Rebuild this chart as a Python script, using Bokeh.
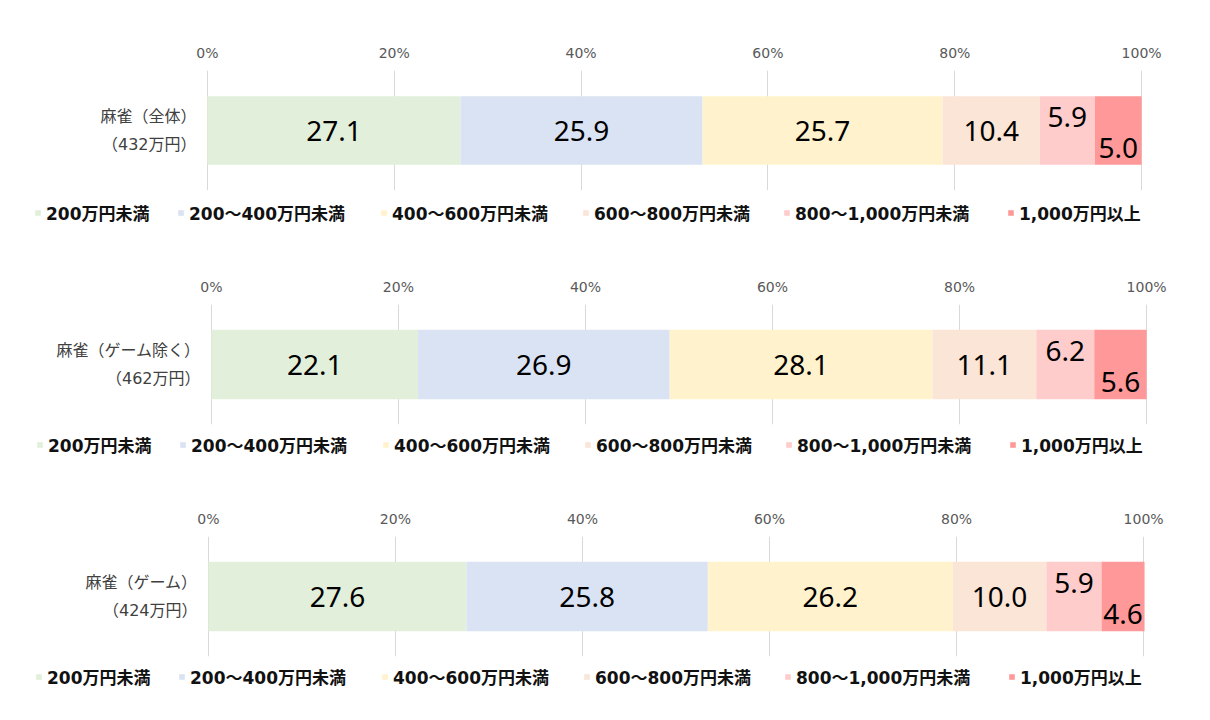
import numpy as np
from bokeh.plotting import figure
from bokeh.models import (Range1d, FactorRange, FixedTicker, PrintfTickFormatter,
                          Legend, LegendItem, ColumnDataSource)
from bokeh.core.properties import value
from bokeh.embed import file_html
from bokeh.resources import INLINE

# ---- data ----
series_names = ["200万円未満", "200～400万円未満", "400～600万円未満",
                "600～800万円未満", "800～1,000万円未満", "1,000万円以上"]
categories = ["麻雀（全体）\n（432万円）", "麻雀（ゲーム除く）\n（462万円）", "麻雀（ゲーム）\n（424万円）"]
vals_all = [27.1, 25.9, 25.7, 10.4, 5.9, 5.0]
vals_exgame = [22.1, 26.9, 28.1, 11.1, 6.2, 5.6]
vals_game = [27.6, 25.8, 26.2, 10.0, 5.9, 4.6]
tick_values = [0, 20, 40, 60, 80, 100]

colors = ["#E2EFDA", "#DAE3F3", "#FFF2CC", "#FBE5D6", "#FFCCCC", "#FF9999"]
label_offsets = [0, 0, 0, 0, -14, 17]
MIXED = "DejaVu Sans, Noto Sans CJK JP"
NUMFONT = "Noto Sans"
W = 1194

# legend item x positions (px) in the legend strip
legend_x = [34, 177, 380, 582, 783, 1007]

# (category, values, border_left, border_right, border_top, border_bottom, bar_height, legend_shift)
panels = [
    (categories[0], vals_all, 205, 51, 70, 10, 0.57, 0),
    (categories[1], vals_exgame, 209, 46, 72, 8, 0.58, 2),
    (categories[2], vals_game, 206, 49, 72, 8, 0.58, 1),
]


def stack(vals):
    vals = np.array(vals)
    rights = np.cumsum(vals)
    return vals, rights - vals, rights


def make_bars(cat, vals, bl, br, bt, bb, bh):
    p = figure(width=W, height=200, x_range=Range1d(-0.2, 100.2),
               y_range=FactorRange(factors=[cat]), x_axis_location="above",
               output_backend="svg", toolbar_location=None,
               min_border_left=bl, min_border_right=br,
               min_border_top=bt, min_border_bottom=bb)
    p.outline_line_color = None
    p.background_fill_color = None
    p.border_fill_color = None

    vals, lefts, rights = stack(vals)
    for i, name in enumerate(series_names):
        src = ColumnDataSource(dict(y=[cat], left=[lefts[i]], right=[rights[i]]))
        p.hbar(y="y", left="left", right="right", height=bh, source=src,
               fill_color=colors[i], line_color=None)
        tsrc = ColumnDataSource(dict(x=[lefts[i] + vals[i] / 2], y=[cat],
                                     t=["%.1f" % vals[i]]))
        p.text(x="x", y="y", text="t", source=tsrc, text_align="center",
               text_baseline="middle", y_offset=label_offsets[i],
               text_font=value(NUMFONT), text_font_size="28px", text_color="#000000")

    xa = p.xaxis[0]
    xa.ticker = FixedTicker(ticks=tick_values)
    xa.formatter = PrintfTickFormatter(format="%d%%")
    xa.axis_line_color = None
    xa.major_tick_line_color = None
    xa.minor_tick_line_color = None
    xa.major_label_text_font = "DejaVu Sans"
    xa.major_label_text_font_size = "14px"
    xa.major_label_text_color = "#595959"
    xa.major_label_standoff = 4

    ya = p.yaxis[0]
    ya.axis_line_color = None
    ya.major_tick_line_color = None
    ya.minor_tick_line_color = None
    ya.major_label_text_font = MIXED
    ya.major_label_text_font_size = "16px"
    ya.major_label_text_line_height = 1.5
    ya.major_label_text_color = "#404040"
    ya.major_label_standoff = 3

    p.xgrid.grid_line_color = "#D9D9D9"
    p.xgrid.ticker = FixedTicker(ticks=tick_values)
    p.ygrid.grid_line_color = None
    return p


def make_legend(cat, vals, shift):
    q = figure(width=W, height=32, x_range=Range1d(0, 100),
               y_range=FactorRange(factors=[cat]),
               output_backend="svg", toolbar_location=None,
               min_border=0, min_border_left=0, min_border_right=0,
               min_border_top=0, min_border_bottom=0)
    q.axis.visible = False
    q.grid.visible = False
    q.outline_line_color = None
    q.background_fill_color = None
    q.border_fill_color = None
    vals, lefts, rights = stack(vals)
    for i, name in enumerate(series_names):
        # zero-height bars: they only feed the legend swatch
        src = ColumnDataSource(dict(y=[cat], left=[lefts[i]], right=[rights[i]]))
        r = q.hbar(y="y", left="left", right="right", height=0, source=src,
                   fill_color=colors[i], line_color=None)
        legend = Legend(items=[LegendItem(label=name, renderers=[r])],
                        orientation="horizontal", location=(legend_x[i] + shift, 7),
                        border_line_color=None, background_fill_color=None,
                        label_text_font=MIXED, label_text_font_size="17px",
                        label_text_font_style="bold", label_text_color="#111111",
                        label_height=18, glyph_width=7, glyph_height=7,
                        label_standoff=5, spacing=0, padding=0, margin=0)
        q.add_layout(legend, "center")
    return q


figs = []
for cat, vals, bl, br, bt, bb, bh, sh in panels:
    figs.append(make_bars(cat, vals, bl, br, bt, bb, bh))
    figs.append(make_legend(cat, vals, sh))
open("out.html", "w").write(file_html(figs, INLINE))
